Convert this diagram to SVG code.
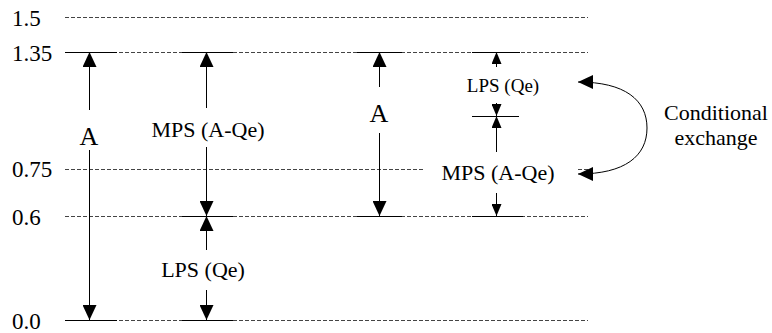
<svg xmlns="http://www.w3.org/2000/svg" width="772" height="333" viewBox="0 0 772 333">
<style>
.lvl{stroke:#444;stroke-width:1;stroke-dasharray:4 2;fill:none;shape-rendering:crispEdges}
.tick{stroke:#000;stroke-width:1;fill:none;shape-rendering:crispEdges}
.ar{stroke:#000;stroke-width:1;fill:none;marker-end:url(#big);shape-rendering:crispEdges}
.sm{stroke:#000;stroke-width:1;fill:none;marker-end:url(#small);shape-rendering:crispEdges}
.t{font-family:'Liberation Serif','DejaVu Serif',serif;fill:#000}
.ax{font-size:23px}
.lb{font-size:22px;text-anchor:middle}
.a{font-size:26px;text-anchor:middle}
.ls{font-size:19px;text-anchor:middle}
</style>
<defs>
<marker id="big" viewBox="0 0 15 14" refX="15" refY="7" markerWidth="15" markerHeight="14" markerUnits="userSpaceOnUse" orient="auto-start-reverse"><path d="M0,0 L15,7 L0,14 z" fill="#000"/></marker>
<marker id="small" viewBox="0 0 12 10" refX="12" refY="5" markerWidth="12" markerHeight="10" markerUnits="userSpaceOnUse" orient="auto-start-reverse"><path d="M0,0 L12,5 L0,10 z" fill="#000"/></marker>
</defs>
<g id="levels">
<line class="lvl" x1="65" y1="17.5" x2="588" y2="17.5"/>
<line class="lvl" x1="65" y1="52.5" x2="588" y2="52.5"/>
<line class="lvl" x1="65" y1="169.5" x2="425" y2="169.5"/>
<line class="lvl" x1="578" y1="169.5" x2="588" y2="169.5"/>
<line class="lvl" x1="65" y1="216.5" x2="588" y2="216.5"/>
<line class="lvl" x1="65" y1="320.5" x2="588" y2="320.5"/>
<text class="t ax" x="12" y="26">1.5</text>
<text class="t ax" x="12" y="61">1.35</text>
<text class="t ax" x="12" y="177">0.75</text>
<text class="t ax" x="12" y="225">0.6</text>
<text class="t ax" x="12" y="329">0.0</text>
</g>
<g id="ticks">
<line class="tick" x1="65" y1="52.5" x2="117" y2="52.5"/>
<line class="tick" x1="182" y1="52.5" x2="233" y2="52.5"/>
<line class="tick" x1="357" y1="52.5" x2="402" y2="52.5"/>
<line class="tick" x1="472" y1="52.5" x2="520" y2="52.5"/>
<line class="tick" x1="182" y1="216.5" x2="233" y2="216.5"/>
<line class="tick" x1="357" y1="216.5" x2="402" y2="216.5"/>
<line class="tick" x1="472" y1="216.5" x2="523" y2="216.5"/>
<line class="tick" x1="65" y1="320.5" x2="117" y2="320.5"/>
<line class="tick" x1="182" y1="320.5" x2="233" y2="320.5"/>
<line class="tick" x1="472" y1="116.5" x2="519" y2="116.5"/>
</g>
<g id="connectors">
<line class="ar" x1="89.5" y1="110" x2="89.5" y2="52"/>
<line class="ar" x1="89.5" y1="150" x2="89.5" y2="320"/>
<line class="ar" x1="206.5" y1="108" x2="206.5" y2="52"/>
<line class="ar" x1="206.5" y1="147" x2="206.5" y2="216"/>
<line class="ar" x1="206.5" y1="250" x2="206.5" y2="216"/>
<line class="ar" x1="206.5" y1="290" x2="206.5" y2="320"/>
<line class="ar" x1="379.5" y1="87" x2="379.5" y2="52"/>
<line class="ar" x1="379.5" y1="133" x2="379.5" y2="216"/>
<line class="sm" x1="496.5" y1="67" x2="496.5" y2="52"/>
<line class="sm" x1="496.5" y1="103" x2="496.5" y2="116"/>
<line class="sm" x1="496.5" y1="152" x2="496.5" y2="116"/>
<line class="sm" x1="496.5" y1="193" x2="496.5" y2="216"/>
<path d="M578,82 C625,82 647,100 647,128 C647,156 625,174 578,174" fill="none" stroke="#000" stroke-width="1" marker-start="url(#big)" marker-end="url(#big)"/>
</g>
<g id="node-A1"><text class="t a" x="89" y="145">A</text></g>
<g id="node-MPS1"><text class="t lb" x="208" y="137">MPS (A-Qe)</text></g>
<g id="node-LPS1"><text class="t lb" x="203" y="277">LPS (Qe)</text></g>
<g id="node-A2"><text class="t a" x="379" y="122">A</text></g>
<g id="node-LPS2"><text class="t ls" x="503" y="92">LPS (Qe)</text></g>
<g id="node-MPS2"><text class="t lb" x="498" y="180">MPS (A-Qe)</text></g>
<g id="node-exchange"><text class="t lb" x="716" y="120">Conditional</text><text class="t lb" x="716" y="145">exchange</text></g>
</svg>
